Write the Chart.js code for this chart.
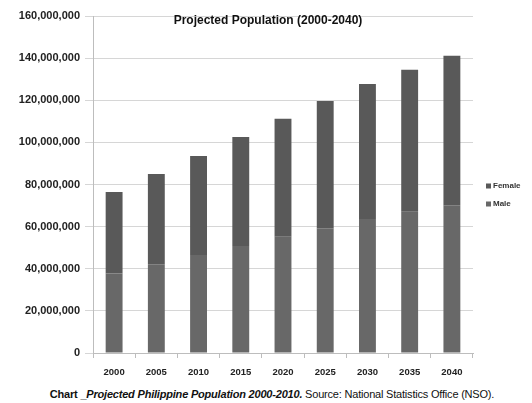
<!DOCTYPE html>
<html>
<head>
<meta charset="utf-8">
<script src="https://cdn.jsdelivr.net/npm/chart.js@4/dist/chart.umd.min.js"></script>
<style>
  html, body { margin: 0; padding: 0; background: #fff; }
  #wrap { position: relative; width: 532px; height: 403px; }
  #chart { position: absolute; left: 0; top: 0; }
  #caption {
    position: absolute; left: 0; width: 544px; top: 388px; text-align: center;
    font-family: "Liberation Sans", Arial, sans-serif; font-size: 11px; color: #111;
    letter-spacing: -0.2px; white-space: nowrap;
  }
</style>
</head>
<body>
<div id="wrap">
  <canvas id="chart" width="532" height="379"></canvas>
  <div id="caption"><b>Chart _<i>Projected Philippine Population 2000-2010.</i></b> Source: National Statistics Office (NSO).</div>
</div>
<script>
// Projection years
const years = ['2000', '2005', '2010', '2015', '2020', '2025', '2030', '2035', '2040'];
// Male population by year
const male = [37800000, 42100000, 46500000, 50800000, 55200000, 59200000, 63600000, 67100000, 70100000];
// Female population by year
const female = [38600000, 42900000, 47000000, 51800000, 56000000, 60400000, 64100000, 67400000, 71000000];
// Y axis range
const yMax = 160000000;
const yStep = 20000000;

const chartTitle = 'Projected Population (2000-2040)';
const FONT = '"Liberation Sans", Arial, sans-serif';

// Title drawn inside the top of the plot area
const innerTitle = {
  id: 'innerTitle',
  afterDraw(chart) {
    const { ctx, chartArea } = chart;
    ctx.save();
    ctx.font = 'bold 12px ' + FONT;
    ctx.fillStyle = '#111';
    ctx.textAlign = 'center';
    ctx.textBaseline = 'middle';
    ctx.fillText(chartTitle, chartArea.left + 175, chartArea.top + 5);
    ctx.restore();
  }
};

// Legend to the right of the plot, series listed top-down in reverse order
const sideLegend = {
  id: 'sideLegend',
  afterDraw(chart) {
    const { ctx, chartArea } = chart;
    const sets = chart.data.datasets.slice().reverse();
    ctx.save();
    ctx.font = 'bold 8px ' + FONT;
    ctx.textBaseline = 'middle';
    ctx.textAlign = 'left';
    sets.forEach((ds, i) => {
      const x = chartArea.right + 13;
      const y = 186 + i * 18;
      ctx.fillStyle = ds.backgroundColor;
      ctx.fillRect(x, y - 2.5, 5, 5);
      ctx.fillStyle = '#333';
      ctx.fillText(ds.label, x + 7, y);
    });
    ctx.restore();
  }
};

new Chart(document.getElementById('chart'), {
  type: 'bar',
  data: {
    labels: years,
    datasets: [
      { label: 'Male', data: male, backgroundColor: '#686868', barPercentage: 0.40, categoryPercentage: 1.0 },
      { label: 'Female', data: female, backgroundColor: '#595959', barPercentage: 0.40, categoryPercentage: 1.0 }
    ]
  },
  options: {
    responsive: false,
    animation: false,
    layout: { padding: { top: 16, left: 10, right: 59, bottom: 0 } },
    plugins: {
      legend: { display: false },
      title: { display: false },
      tooltip: { enabled: false }
    },
    scales: {
      x: {
        stacked: true,
        afterFit: s => { s.height = 26; },
        grid: { display: true, drawOnChartArea: false, offset: true, tickLength: 5, color: '#bdbdbd' },
        border: { color: '#bdbdbd' },
        ticks: {
          color: '#222', padding: 9,
          font: { family: FONT, size: 9.5, weight: 'bold' }
        }
      },
      y: {
        stacked: true,
        min: 0, max: yMax,
        afterFit: s => { s.width = 83; },
        grid: { color: '#d6d6d6', tickLength: 8 },
        border: { color: '#bdbdbd' },
        ticks: {
          stepSize: yStep, color: '#222', padding: 5,
          font: { family: FONT, size: 11, weight: 'bold' },
          callback: v => v.toLocaleString('en-US')
        }
      }
    }
  },
  plugins: [innerTitle, sideLegend]
});
</script>
</body>
</html>
